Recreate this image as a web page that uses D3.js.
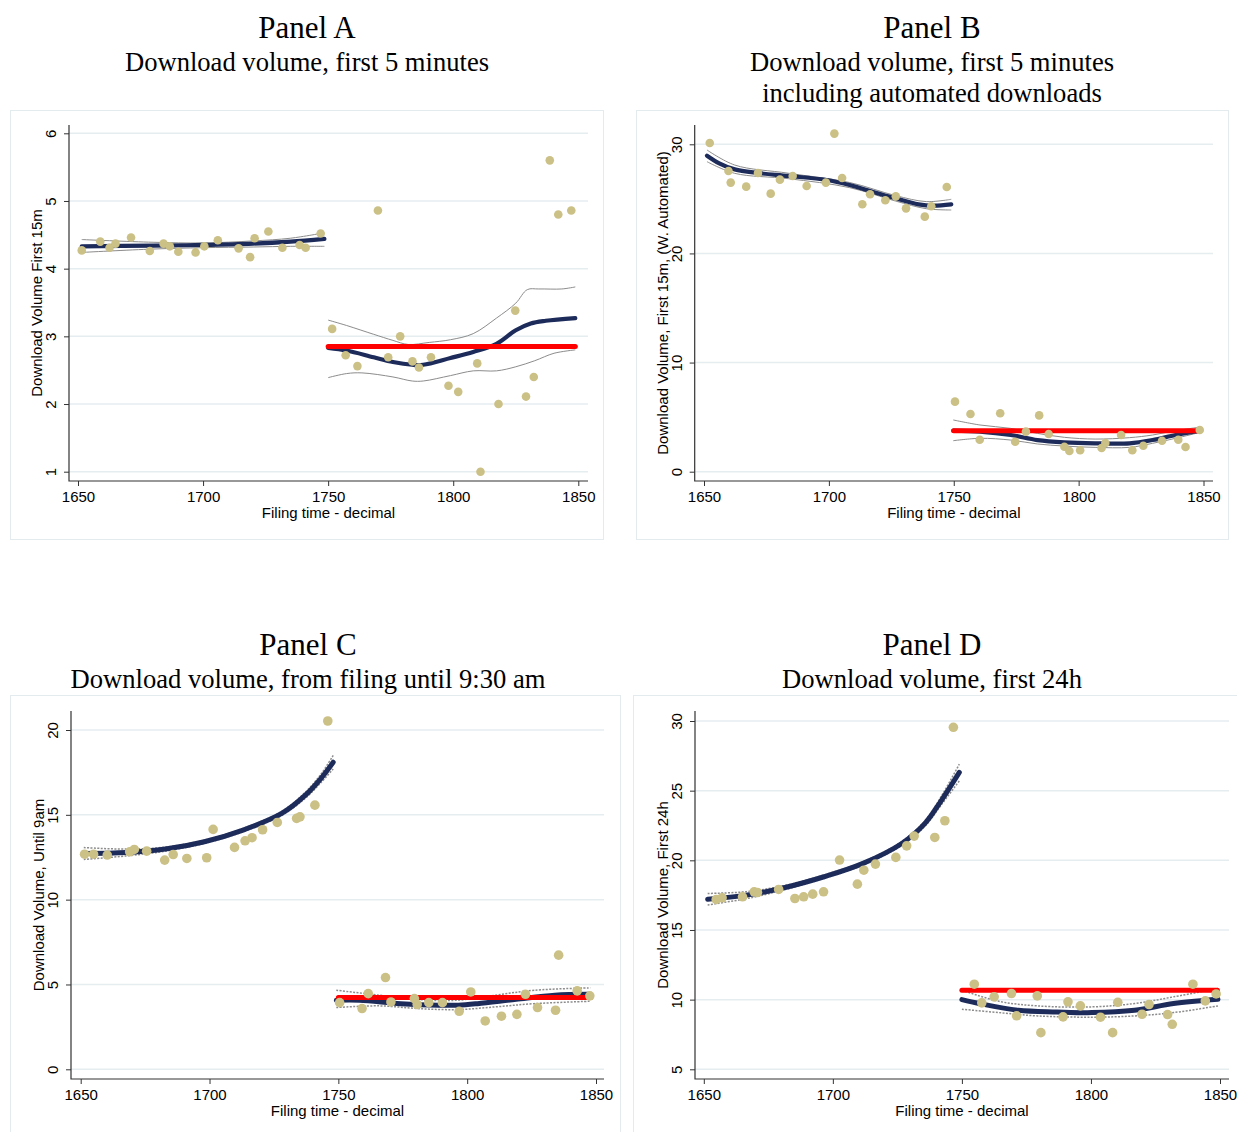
<!DOCTYPE html>
<html>
<head>
<meta charset="utf-8">
<script src="https://cdn.jsdelivr.net/npm/d3@7"></script>
<style>
  body { margin: 0; background: #fff; }
  text { font-family: "Liberation Sans", Arial, sans-serif; fill: #000; }
  .ttl { font-family: "Liberation Serif", "Times New Roman", serif; }
</style>
</head>
<body>
<svg id="chart" width="1237" height="1132"></svg>
<script>
// ---- data ----
var xTicks = [1650, 1700, 1750, 1800, 1850];

// Panel A : first 5 minutes
var a_ptsX = [1651.5,1658.9,1662.6,1665.0,1671.2,1678.7,1684.2,1686.7,1690.1,1697.0,1700.5,1705.9,1714.2,1718.8,1720.6,1726.1,1731.7,1738.6,1741.0,1747.0,
              1751.6,1757.0,1761.7,1769.9,1774.0,1778.8,1783.7,1786.3,1791.1,1798.1,1802.0,1809.6,1810.9,1818.1,1824.8,1829.1,1832.2,1838.6,1842.0,1847.2];
var a_ptsY = [4.27,4.40,4.31,4.37,4.46,4.26,4.37,4.33,4.25,4.24,4.33,4.42,4.30,4.17,4.45,4.55,4.31,4.35,4.31,4.52,
              3.11,2.72,2.56,4.86,2.69,3.00,2.63,2.54,2.69,2.27,2.18,2.60,1.00,2.00,3.38,2.11,2.40,5.60,4.80,4.86];
var a_fitLX = [1651.5,1680,1700,1720,1735,1748.5];
var a_fitLY = [4.33,4.34,4.35,4.37,4.40,4.44];
var a_hiLY  = [4.43,4.39,4.38,4.41,4.45,4.53];
var a_loLY  = [4.24,4.29,4.31,4.32,4.33,4.33];
var a_fitRX = [1750,1757.4,1768.2,1775.9,1783.6,1788,1798.9,1808,1817.3,1825,1831,1837,1848.8];
var a_fitRY = [2.83,2.79,2.69,2.62,2.58,2.58,2.68,2.77,2.89,3.09,3.19,3.23,3.27];
var a_hiRX  = [1750,1757.4,1768.2,1775.9,1782,1790.4,1798.9,1808,1817.3,1825,1829.6,1834.2,1843.4,1848.8];
var a_hiRY  = [3.24,3.16,3.03,2.94,2.88,2.91,2.95,3.04,3.27,3.49,3.69,3.70,3.70,3.73];
var a_loRX  = [1750,1757.4,1763.5,1775.9,1783.6,1788,1798.9,1808,1817.3,1825,1832.6,1840.3,1848.8];
var a_loRY  = [2.39,2.45,2.46,2.40,2.34,2.34,2.42,2.49,2.49,2.55,2.64,2.75,2.80];
var a_level = 2.85;

// Panel B : first 5 minutes incl. automated
var b_ptsX = [1652.3,1659.8,1660.7,1666.9,1671.6,1676.7,1680.4,1685.5,1691.1,1698.8,1702.2,1705.3,1713.4,1716.5,1722.6,1726.8,1730.9,1738.4,1741.0,1747.2,
              1750.5,1756.7,1760.4,1768.6,1774.6,1778.9,1784.2,1788.0,1794.3,1796.3,1800.6,1809.2,1810.7,1817.0,1821.5,1825.9,1833.4,1839.9,1842.8,1848.5];
var b_ptsY = [30.12,27.56,26.49,26.12,27.37,25.48,26.76,27.10,26.18,26.49,30.98,26.91,24.50,25.42,24.87,25.23,24.13,23.37,24.32,26.09,
              6.42,5.29,2.93,5.35,2.75,3.67,5.16,3.45,2.29,1.89,1.96,2.17,2.63,3.36,1.96,2.38,2.84,2.93,2.26,3.82];
var b_fitLX = [1651.2,1656.1,1662.3,1671.5,1683.8,1699.1,1708.3,1717.5,1726.7,1735.9,1742,1749];
var b_fitLY = [28.96,28.26,27.70,27.37,27.10,26.73,26.27,25.66,25.05,24.50,24.38,24.50];
var b_ciLX  = [1651.2,1662.3,1683.8,1708.3,1726.7,1739,1749];
var b_hiLY  = [29.48,28.10,27.35,26.50,25.30,24.75,24.96];
var b_loLY  = [28.41,27.34,26.85,26.03,24.80,24.10,23.98];
var b_fitRX = [1749.8,1760.5,1772.8,1783.5,1794.3,1806.6,1820.4,1829.6,1838.8,1848];
var b_fitRY = [3.76,3.67,3.36,2.90,2.69,2.60,2.60,2.90,3.36,3.73];
var b_hiRY  = [4.74,4.28,3.97,3.51,3.15,2.99,3.12,3.36,3.76,4.06];
var b_loRY  = [2.84,3.06,2.90,2.54,2.35,2.23,2.23,2.60,3.06,3.57];
var b_level = 3.76;

// Panel C : from filing until 9:30 am
var c_ptsX = [1651.5,1655.0,1660.3,1669.0,1670.8,1675.6,1682.6,1685.9,1691.2,1698.9,1701.4,1709.7,1713.8,1716.5,1720.6,1726.3,1733.8,1735.1,1740.9,1745.9,
              1750.5,1759.2,1761.6,1768.3,1770.4,1779.5,1780.6,1785.1,1790.4,1796.9,1801.4,1807.0,1813.3,1819.3,1822.6,1827.3,1834.3,1835.5,1842.7,1847.6];
var c_ptsY = [12.68,12.68,12.63,12.82,12.96,12.86,12.33,12.66,12.43,12.47,14.14,13.08,13.47,13.65,14.12,14.55,14.79,14.88,15.57,20.53,
              3.93,3.58,4.46,5.41,3.97,4.17,3.82,3.93,3.93,3.42,4.56,2.85,3.13,3.24,4.42,3.64,3.48,6.73,4.62,4.33];
var c_fitLX = [1651.2,1667.8,1682.9,1698,1713,1728,1737.2,1743.2,1748];
var c_fitLY = [12.72,12.78,12.98,13.41,14.10,15.08,16.16,17.14,18.10];
var c_hiLY  = [13.07,12.98,13.10,13.51,14.20,15.20,16.34,17.39,18.50];
var c_loLY  = [12.37,12.58,12.86,13.31,14.00,14.96,15.98,16.89,17.70];
var c_fitRX = [1749.2,1758.2,1774.2,1789,1796.6,1804,1819,1834,1847];
var c_fitRY = [4.07,4.07,3.87,3.78,3.78,3.87,4.13,4.37,4.42];
var c_ciRX  = [1749.2,1765.8,1780.9,1796,1811,1826,1847.8];
var c_hiRY  = [4.66,4.37,4.11,4.07,4.37,4.66,4.80];
var c_loRY  = [3.64,3.74,3.58,3.52,3.68,3.87,4.01];
var c_level = 4.23;

// Panel D : first 24h
var d_ptsX = [1654.8,1657.1,1665.0,1669.5,1670.8,1679.0,1685.3,1688.7,1692.2,1696.4,1702.6,1709.5,1712.0,1716.5,1724.4,1728.6,1731.5,1739.5,1743.4,1746.7,
              1754.8,1757.7,1762.5,1769.2,1771.2,1779.2,1780.6,1789.2,1791.1,1795.9,1803.7,1808.4,1810.4,1819.8,1822.5,1829.7,1831.5,1839.5,1844.3,1848.5];
var d_ptsY = [17.19,17.31,17.38,17.74,17.69,17.91,17.26,17.38,17.57,17.74,20.02,18.29,19.29,19.73,20.21,21.04,21.74,21.64,22.84,29.55,
              11.11,9.77,10.20,10.44,8.84,10.27,7.63,8.76,9.84,9.55,8.74,7.63,9.81,8.95,9.65,8.93,8.23,11.11,9.91,10.41];
var d_fitLX = [1651.5,1666.5,1681.5,1696.6,1711.7,1726.7,1735.7,1741.7,1749];
var d_fitLY = [17.21,17.50,18.05,18.82,19.78,21.21,22.65,24.20,26.31];
var d_hiLY  = [17.62,17.75,18.20,18.95,19.90,21.35,22.85,24.50,26.90];
var d_loLY  = [16.80,17.25,17.90,18.70,19.66,21.07,22.45,23.90,25.70];
var d_fitRX = [1750,1756.8,1771.8,1786.8,1800.4,1816.9,1832,1849.2];
var d_fitRY = [10.00,9.72,9.24,9.12,9.07,9.24,9.72,10.03];
var d_ciRX  = [1750,1764.3,1779.3,1800.4,1816.9,1832,1849.2];
var d_hiRY  = [10.68,9.88,9.55,9.48,9.72,10.20,10.80];
var d_loRY  = [9.31,9.07,8.83,8.74,8.83,9.07,9.55];
var d_level = 10.68;

// ---- colours ----
var colPts = "rgb(203,192,133)"
  , colFit = "#1d2b5b"
  , colLvl = "#ff0000"
  , colCI  = "#8c8c8c"
  , colGrid = "#e5edf0"
  , colFrame = "#e4ebee";

var svg = d3.select("#chart");

function zip(xs, ys) { return xs.map(function(d, i) { return [d, ys[i]]; }); }

var panels = [
  { id: "panelA", cx: 307, frame: [10,110,603,539],
    titles: [["Panel A",38,31],["Download volume, first 5 minutes",71,26.6]],
    xr: [78,578.3], yd: [1,6], yr: [471.7,133.3], yTicks: [1,2,3,4,5,6],
    axX: 69, axY: 481, axTop: 125, gridR: 588, ytitle: "Download Volume First 15m",
    r: 4.3, fitW: 4.2, ciDash: null,
    pts: zip(a_ptsX, a_ptsY),
    fits: [zip(a_fitLX, a_fitLY), zip(a_fitRX, a_fitRY)],
    cis: [zip(a_fitLX, a_hiLY), zip(a_fitLX, a_loLY), zip(a_hiRX, a_hiRY), zip(a_loRX, a_loRY)],
    level: a_level, levelX: [1750, 1848.8] },
  { id: "panelB", cx: 932, frame: [636,110,1228,539],
    titles: [["Panel B",38,31],["Download volume, first 5 minutes",71,26.6],["including automated downloads",102,26.6]],
    xr: [704,1203.5], yd: [0,30], yr: [471.7,144.3], yTicks: [0,10,20,30],
    axX: 694.7, axY: 481, axTop: 125, gridR: 1213, ytitle: "Download Volume, First 15m, (W. Automated)",
    r: 4.3, fitW: 4.2, ciDash: null,
    pts: zip(b_ptsX, b_ptsY),
    fits: [zip(b_fitLX, b_fitLY), zip(b_fitRX, b_fitRY)],
    cis: [zip(b_ciLX, b_hiLY), zip(b_ciLX, b_loLY), zip(b_fitRX, b_hiRY), zip(b_fitRX, b_loRY)],
    level: b_level, levelX: [1750, 1848] },
  { id: "panelC", cx: 308, frame: [10,695,620,1145],
    titles: [["Panel C",655,31],["Download volume, from filing until 9:30 am",688,26.6]],
    xr: [80.7,596], yd: [0,20], yr: [1069.3,730], yTicks: [0,5,10,15,20],
    axX: 71, axY: 1079, axTop: 711, gridR: 604, ytitle: "Download Volume, Until 9am",
    r: 4.8, fitW: 5, ciDash: "2,1.4",
    pts: zip(c_ptsX, c_ptsY),
    fits: [zip(c_fitLX, c_fitLY), zip(c_fitRX, c_fitRY)],
    cis: [zip(c_fitLX, c_hiLY), zip(c_fitLX, c_loLY), zip(c_ciRX, c_hiRY), zip(c_ciRX, c_loRY)],
    level: c_level, levelX: [1750, 1848] },
  { id: "panelD", cx: 932, frame: [633,695,1245,1145],
    titles: [["Panel D",655,31],["Download volume, first 24h",688,26.6]],
    xr: [703.8,1220], yd: [5,30], yr: [1069.3,721], yTicks: [5,10,15,20,25,30],
    axX: 695, axY: 1079, axTop: 711, gridR: 1229, ytitle: "Download Volume, First 24h",
    r: 4.8, fitW: 5, ciDash: "2,1.4",
    pts: zip(d_ptsX, d_ptsY),
    fits: [zip(d_fitLX, d_fitLY), zip(d_fitRX, d_fitRY)],
    cis: [zip(d_fitLX, d_hiLY), zip(d_fitLX, d_loLY), zip(d_ciRX, d_hiRY), zip(d_ciRX, d_loRY)],
    level: d_level, levelX: [1750, 1849] }
];

panels.forEach(function(p) {
  var g = svg.append("g").attr("id", p.id);

  // outer frame of the graph region
  g.append("rect")
    .attr("x", p.frame[0] + 0.5).attr("y", p.frame[1] + 0.5)
    .attr("width", p.frame[2] - p.frame[0]).attr("height", p.frame[3] - p.frame[1])
    .attr("fill", "none").attr("stroke", colFrame);

  // titles
  g.selectAll(".ttl").data(p.titles).enter().append("text")
    .attr("class", "ttl")
    .attr("x", p.cx).attr("y", function(d) { return d[1]; })
    .attr("text-anchor", "middle")
    .style("font-size", function(d) { return d[2] + "px"; })
    .text(function(d) { return d[0]; });

  var x = d3.scaleLinear().domain([1650, 1850]).range(p.xr)
    , y = d3.scaleLinear().domain(p.yd).range(p.yr);

  // gridlines
  g.selectAll(".grid").data(p.yTicks).enter().append("line")
    .attr("x1", p.axX).attr("x2", p.gridR)
    .attr("y1", function(d) { return y(d); }).attr("y2", function(d) { return y(d); })
    .attr("stroke", colGrid).attr("stroke-width", 1.5);

  // axes
  var xa = g.append("g").attr("transform", "translate(0," + p.axY + ")")
    .call(d3.axisBottom(x).tickValues(xTicks).tickFormat(d3.format("d")).tickSize(5));
  xa.select(".domain").remove();
  xa.selectAll("text").attr("y", 21).attr("dy", 0).style("font-size", "15px");
  xa.selectAll("line").attr("stroke", "#333");

  var ya = g.append("g").attr("transform", "translate(" + p.axX + ",0)")
    .call(d3.axisLeft(y).tickValues(p.yTicks).tickFormat(d3.format("d")).tickSize(5));
  ya.select(".domain").remove();
  ya.selectAll("text")
    .attr("x", 0).attr("y", -13).attr("dy", 0)
    .attr("text-anchor", "middle")
    .attr("transform", "rotate(-90)")
    .style("font-size", "15px");
  ya.selectAll("line").attr("stroke", "#333");

  g.append("path")
    .attr("d", "M" + p.axX + "," + p.axTop + "V" + p.axY + "H" + p.gridR)
    .attr("fill", "none").attr("stroke", "#333").attr("stroke-width", 1.2);

  // axis titles
  g.append("text")
    .attr("x", (p.axX + p.gridR) / 2).attr("y", p.axY + 37)
    .attr("text-anchor", "middle").style("font-size", "15px")
    .text("Filing time - decimal");
  g.append("text")
    .attr("transform", "translate(" + (p.axX - 27) + "," + ((p.axTop + p.axY) / 2) + ") rotate(-90)")
    .attr("text-anchor", "middle").style("font-size", "15px")
    .text(p.ytitle);

  var line = d3.line()
    .x(function(d) { return x(d[0]); })
    .y(function(d) { return y(d[1]); })
    .curve(d3.curveCatmullRom.alpha(0.5));

  // confidence bands
  g.selectAll(".ci").data(p.cis).enter().append("path")
    .attr("d", line)
    .attr("fill", "none")
    .attr("stroke", colCI)
    .attr("stroke-width", p.ciDash ? 1.5 : 1)
    .attr("stroke-dasharray", p.ciDash);

  // fitted lines
  g.selectAll(".fit").data(p.fits).enter().append("path")
    .attr("d", line)
    .attr("fill", "none")
    .attr("stroke", colFit)
    .attr("stroke-width", p.fitW)
    .attr("stroke-linecap", "round");

  // counterfactual level
  g.append("path")
    .attr("d", line([[p.levelX[0], p.level], [p.levelX[1], p.level]]))
    .attr("fill", "none")
    .attr("stroke", colLvl)
    .attr("stroke-width", 5)
    .attr("stroke-linecap", "round");

  // scatter of bin means, on top
  g.selectAll(".pt").data(p.pts).enter().append("circle")
    .attr("cx", function(d) { return x(d[0]); })
    .attr("cy", function(d) { return y(d[1]); })
    .attr("r", p.r)
    .attr("fill", colPts);
});
</script>
</body>
</html>
